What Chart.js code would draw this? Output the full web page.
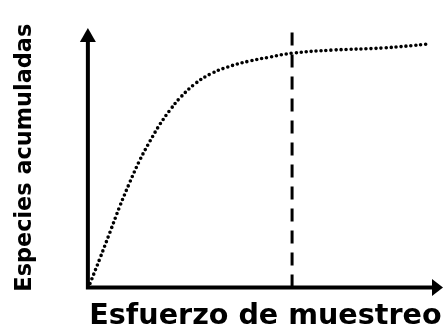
<!DOCTYPE html>
<html>
<head>
<meta charset="utf-8">
<script src="https://cdn.jsdelivr.net/npm/chart.js@4"></script>
<style>
    body { margin: 0; background: #fff; }
    #wrap { width: 446px; height: 327px; }
</style>
</head>
<body>
<div id="wrap"><canvas id="myChart"></canvas></div>
<script>
// Curva de acumulación (valores leídos a ojo de la figura)
const effort = [0.6, 3.4, 6.2, 9.0, 11.8, 14.6, 17.5, 20.3, 23.1, 25.9, 30.1, 34.4, 39.2, 45.6, 51.3, 57.5, 69.0, 83.1, 95.8];
const species = [1.5, 11.2, 21.2, 31.3, 40.5, 49.0, 56.4, 62.9, 68.3, 73.0, 78.4, 82.2, 84.9, 87.3, 88.8, 90.3, 91.5, 92.3, 93.8];
// Línea vertical discontinua
const cutX = [57.5, 57.5];
const cutY = [0, 100];

const xTitle = 'Esfuerzo de muestreo';
const yTitle = 'Especies acumuladas';

// Ejes con flechas
const arrowAxes = {
    id: 'arrowAxes',
    afterDraw(chart) {
        const ctx = chart.ctx;
        const x = chart.scales.x, y = chart.scales.y;
        const x0 = x.getPixelForValue(0), x1 = x.getPixelForValue(100);
        const y0 = y.getPixelForValue(0), y1 = y.getPixelForValue(100);
        ctx.save();
        ctx.fillStyle = '#000';
        ctx.strokeStyle = '#000';
        ctx.lineWidth = 4;
        ctx.beginPath();
        ctx.moveTo(x0, y0 + 2);
        ctx.lineTo(x0, y1 + 10);
        ctx.moveTo(x0 - 2, y0);
        ctx.lineTo(x1 - 8, y0);
        ctx.stroke();
        ctx.beginPath();
        ctx.moveTo(x0, y1);
        ctx.lineTo(x0 - 8, y1 + 14);
        ctx.lineTo(x0 + 8, y1 + 14);
        ctx.closePath();
        ctx.fill();
        ctx.beginPath();
        ctx.moveTo(x1, y0);
        ctx.lineTo(x1 - 11, y0 - 8.5);
        ctx.lineTo(x1 - 11, y0 + 8.5);
        ctx.closePath();
        ctx.fill();
        ctx.restore();
    }
};

new Chart(document.getElementById('myChart'), {
    type: 'line',
    data: {
        datasets: [{
            data: effort.map((v, i) => ({ x: v, y: species[i] })),
            borderColor: '#000',
            borderWidth: 3.6,
            borderDash: [0, 5],
            borderCapStyle: 'round',
            tension: 0.4,
            pointRadius: 0,
            fill: false
        }, {
            data: cutX.map((v, i) => ({ x: v, y: cutY[i] })),
            borderColor: '#000',
            borderWidth: 3,
            borderDash: [13, 9],
            pointRadius: 0,
            fill: false
        }]
    },
    options: {
        responsive: true,
        maintainAspectRatio: false,
        animation: false,
        layout: { padding: { top: 28, right: 3, left: 0, bottom: 0 } },
        plugins: {
            legend: { display: false },
            tooltip: { enabled: false }
        },
        scales: {
            x: {
                type: 'linear',
                min: 0,
                max: 100,
                grid: { display: false, drawTicks: false },
                border: { display: false },
                ticks: { display: false },
                title: {
                    display: true,
                    text: xTitle,
                    color: '#000',
                    font: { family: 'DejaVu Sans', size: 28.6, weight: 'bold', lineHeight: 1 },
                    padding: { top: 15, bottom: -4 }
                }
            },
            y: {
                type: 'linear',
                min: 0,
                max: 100,
                grid: { display: false, drawTicks: false },
                border: { display: false },
                ticks: { display: false },
                title: {
                    display: true,
                    text: yTitle,
                    color: '#000',
                    font: { family: 'DejaVu Sans', size: 22.4, weight: 'bold', lineHeight: 1.2 },
                    padding: { top: 12, bottom: 49 }
                }
            }
        }
    },
    plugins: [arrowAxes]
});
</script>
</body>
</html>
